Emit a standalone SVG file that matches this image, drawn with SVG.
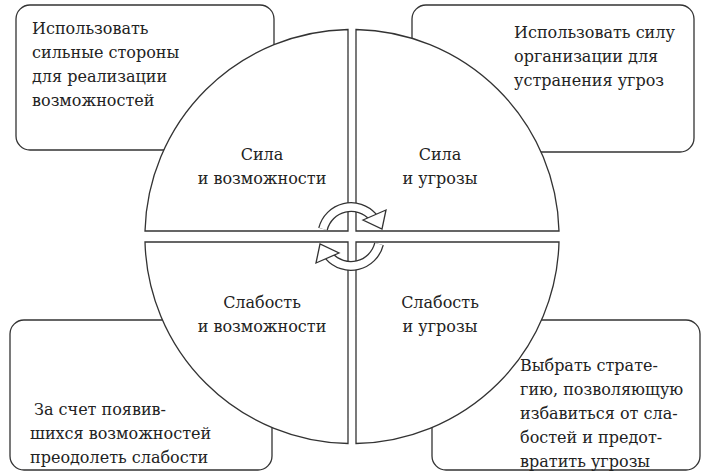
<svg xmlns="http://www.w3.org/2000/svg" width="708" height="474" viewBox="0 0 708 474">
<style>
.b{fill:#fff;stroke:#333;stroke-width:1.3}
text{font-family:"DejaVu Serif","Liberation Serif",serif;font-size:16px;fill:#222}
.c{text-anchor:middle}
.ao{fill:none;stroke:#333;stroke-width:10}
.ai{fill:none;stroke:#fff;stroke-width:7.4}
.ah{fill:#fff;stroke:#333;stroke-width:1.3;stroke-linejoin:miter}
</style>
<rect width="708" height="474" fill="#fff"/>
<g id="box-tl"><rect class="b" x="16" y="5" width="258" height="145" rx="14"/>
<text x="32" y="34">Использовать</text><text x="32" y="58">сильные стороны</text><text x="32" y="82">для реализации</text><text x="32" y="106">возможностей</text></g>
<g id="box-tr"><rect class="b" x="412" y="5" width="282" height="147" rx="14"/>
<text x="514" y="38">Использовать силу</text><text x="514" y="62">организации для</text><text x="514" y="86">устранения угроз</text></g>
<g id="box-bl"><rect class="b" x="10" y="320" width="262" height="150" rx="14"/>
<text x="34" y="415">За счет появив-</text><text x="30" y="439">шихся возможностей</text><text x="30" y="463">преодолеть слабости</text></g>
<g id="box-br"><rect class="b" x="432" y="320" width="268" height="150" rx="14"/>
<text x="520" y="371">Выбрать страте-</text><text x="520" y="395">гию, позволяющую</text><text x="520" y="419">избавиться от сла-</text><text x="520" y="443">бостей и предот-</text><text x="520" y="467">вратить угрозы</text></g>
<g id="q-tl"><path class="b" d="M348,231 L145,231 A207,207 0 0 1 348,29.5 Z"/>
<text class="c" x="262" y="160">Сила</text><text class="c" x="262" y="184">и возможности</text></g>
<g id="q-tr"><path class="b" d="M356,231 L559,231 A207,207 0 0 0 356,29.5 Z"/>
<text class="c" x="440" y="160">Сила</text><text class="c" x="440" y="184">и угрозы</text></g>
<g id="q-bl"><path class="b" d="M348,242 L145,242 A207,207 0 0 0 348,443.5 Z"/>
<text class="c" x="262" y="308">Слабость</text><text class="c" x="262" y="332">и возможности</text></g>
<g id="q-br"><path class="b" d="M356,242 L559,242 A207,207 0 0 1 356,443.5 Z"/>
<text class="c" x="440" y="308">Слабость</text><text class="c" x="440" y="332">и угрозы</text></g>
<g id="connectors">
<path class="ao" d="M323,229 A29,29 0 0 1 373,217"/><path class="ai" d="M323,229 A29,29 0 0 1 373,217"/>
<polygon class="ah" points="363,220 386,210 382,229"/>
<path class="ao" d="M379,244 A29,29 0 0 1 329,256"/><path class="ai" d="M379,244 A29,29 0 0 1 329,256"/>
<polygon class="ah" points="339,253 316,263 320,244"/>
</g>
</svg>
